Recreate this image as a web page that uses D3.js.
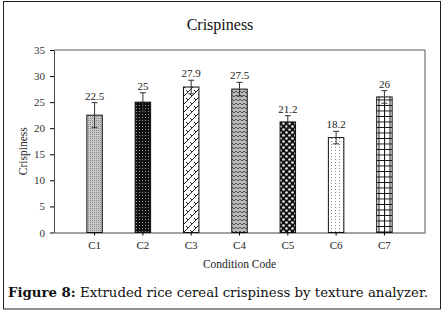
<!DOCTYPE html>
<html>
<head>
<meta charset="utf-8">
<script src="https://cdn.jsdelivr.net/npm/d3@7"></script>
<style>
  body { margin: 0; background: #fff; }
  svg { display: block; }
</style>
</head>
<body>
<div id="chart"></div>
<script>
// data
const codes = ["C1", "C2", "C3", "C4", "C5", "C6", "C7"];
const crispiness = [22.5, 25, 27.9, 27.5, 21.2, 18.2, 26];
const errors = [2.4, 1.8, 1.3, 1.3, 1.2, 1.2, 1.2];
const yTicks = [0, 5, 10, 15, 20, 25, 30, 35];

const W = 446, H = 313;
const margin = { top: 50, right: 21, bottom: 80.5, left: 54 };
const width = W - margin.left - margin.right;
const height = H - margin.top - margin.bottom;

const svg = d3.select("#chart").append("svg")
  .attr("width", W)
  .attr("height", H);

// fill patterns, one per bar
const defs = svg.append("defs");
function pat(id, w, h, draw) {
  const p = defs.append("pattern").attr("id", id)
    .attr("patternUnits", "userSpaceOnUse").attr("width", w).attr("height", h);
  draw(p);
}
pat("p1", 2, 2, p => {
  p.append("rect").attr("width", 2).attr("height", 2).attr("fill", "#c8c8c8");
  p.append("rect").attr("width", 1).attr("height", 1).attr("fill", "#888");
});
pat("p2", 3, 3, p => {
  p.append("rect").attr("width", 3).attr("height", 3).attr("fill", "#111");
  p.append("rect").attr("x", 1).attr("y", 1).attr("width", 1).attr("height", 1).attr("fill", "#999");
});
pat("p3", 8, 8, p => {
  p.append("rect").attr("width", 8).attr("height", 8).attr("fill", "#fff");
  p.append("path").attr("d", "M0,8 L8,0 M-2,2 L2,-2 M6,10 L10,6 M0,4 L2,6 M4,0 L6,2")
    .attr("stroke", "#222").attr("stroke-width", 1).attr("fill", "none");
});
pat("p4", 4, 4, p => {
  p.append("rect").attr("width", 4).attr("height", 4).attr("fill", "#bbb");
  p.append("path").attr("d", "M0,3 L2,1 L4,3").attr("stroke", "#444").attr("stroke-width", 0.9).attr("fill", "none");
});
pat("p5", 6, 6, p => {
  p.append("rect").attr("width", 6).attr("height", 6).attr("fill", "#111");
  p.append("circle").attr("cx", 1.5).attr("cy", 1.5).attr("r", 1.3).attr("fill", "#eee");
  p.append("circle").attr("cx", 4.5).attr("cy", 4.5).attr("r", 1.3).attr("fill", "#eee");
});
pat("p6", 4, 3, p => {
  p.append("rect").attr("width", 4).attr("height", 3).attr("fill", "#fff");
  p.append("rect").attr("x", 1).attr("y", 1).attr("width", 1).attr("height", 1).attr("fill", "#888");
});
pat("p7", 5.5, 5.5, p => {
  p.append("rect").attr("width", 5.5).attr("height", 5.5).attr("fill", "#fff");
  p.append("path").attr("d", "M0,0.5 H5.5 M0.5,0 V5.5").attr("stroke", "#111").attr("stroke-width", 1);
});

// outer frame
svg.append("rect")
  .attr("x", 3.5).attr("y", 1.5)
  .attr("width", 437).attr("height", 307.5)
  .attr("fill", "none").attr("stroke", "#222").attr("stroke-width", 1);

const g = svg.append("g")
  .attr("transform", `translate(${margin.left},${margin.top})`);

const x = d3.scaleBand().domain(codes).range([0, width]).padding(0.68);
const y = d3.scaleLinear().domain([0, 35]).range([height, 0]);

// plot box (top and right)
g.append("path")
  .attr("d", `M0,0 H${width} V${height}`)
  .attr("fill", "none").attr("stroke", "#555").attr("stroke-width", 1);

g.append("g")
  .attr("transform", `translate(0,${height})`)
  .call(d3.axisBottom(x).tickSize(3).tickPadding(6).tickSizeOuter(0))
  .call(a => a.select(".domain").attr("stroke", "#444"))
  .selectAll("text")
  .style("font-family", "Liberation Serif")
  .style("font-size", "11px")
  .style("fill", "#222");

g.append("g")
  .call(d3.axisLeft(y).tickValues(yTicks).tickSize(4).tickPadding(5).tickSizeOuter(0))
  .call(a => a.select(".domain").attr("stroke", "#444"))
  .selectAll("text")
  .style("font-family", "Liberation Serif")
  .style("font-size", "11px")
  .style("fill", "#333");

const data = codes.map((c, i) => ({ c, v: crispiness[i], e: errors[i], i }));

g.selectAll(".bar")
  .data(data)
  .enter()
  .append("rect")
  .attr("class", "bar")
  .attr("x", d => x(d.c))
  .attr("y", d => y(d.v))
  .attr("width", x.bandwidth())
  .attr("height", d => height - y(d.v))
  .attr("fill", d => `url(#p${d.i + 1})`)
  .attr("stroke", "#111")
  .attr("stroke-width", 1);

// error bars
const eb = g.selectAll(".err").data(data).enter().append("g")
  .attr("transform", d => `translate(${x(d.c) + x.bandwidth() / 2},0)`);
eb.append("line")
  .attr("y1", d => y(d.v - d.e)).attr("y2", d => y(d.v + d.e))
  .attr("stroke", "#333").attr("stroke-width", 1);
eb.append("line")
  .attr("x1", -3).attr("x2", 3)
  .attr("y1", d => y(d.v + d.e)).attr("y2", d => y(d.v + d.e))
  .attr("stroke", "#333").attr("stroke-width", 1);
eb.append("line")
  .attr("x1", -3).attr("x2", 3)
  .attr("y1", d => y(d.v - d.e)).attr("y2", d => y(d.v - d.e))
  .attr("stroke", "#333").attr("stroke-width", 1);

g.selectAll(".label")
  .data(data)
  .enter()
  .append("text")
  .attr("x", d => x(d.c) + x.bandwidth() / 2)
  .attr("y", d => y(d.v + d.e) - 3)
  .attr("text-anchor", "middle")
  .style("font-family", "Liberation Serif")
  .style("font-size", "11px")
  .style("fill", "#222")
  .text(d => d.v);

// titles
svg.append("text")
  .attr("x", 220).attr("y", 30)
  .attr("text-anchor", "middle")
  .style("font-family", "Liberation Serif")
  .style("font-size", "16px")
  .style("fill", "#111")
  .text("Crispiness");

svg.append("text")
  .attr("x", margin.left + width / 2).attr("y", 268)
  .attr("text-anchor", "middle")
  .style("font-family", "Liberation Serif")
  .style("font-size", "11.5px")
  .style("fill", "#222")
  .text("Condition Code");

svg.append("text")
  .attr("transform", `translate(27,${margin.top + height / 2 + 10}) rotate(-90)`)
  .attr("text-anchor", "middle")
  .style("font-family", "Liberation Serif")
  .style("font-size", "11.5px")
  .style("fill", "#222")
  .text("Crispiness");

// caption
const cap = svg.append("text")
  .attr("x", 8).attr("y", 297)
  .style("font-family", "DejaVu Serif")
  .style("font-size", "13.3px")
  .style("fill", "#111");
cap.append("tspan").style("font-weight", "bold").text("Figure 8:");
cap.append("tspan").text(" Extruded rice cereal crispiness by texture analyzer.");
</script>
</body>
</html>
